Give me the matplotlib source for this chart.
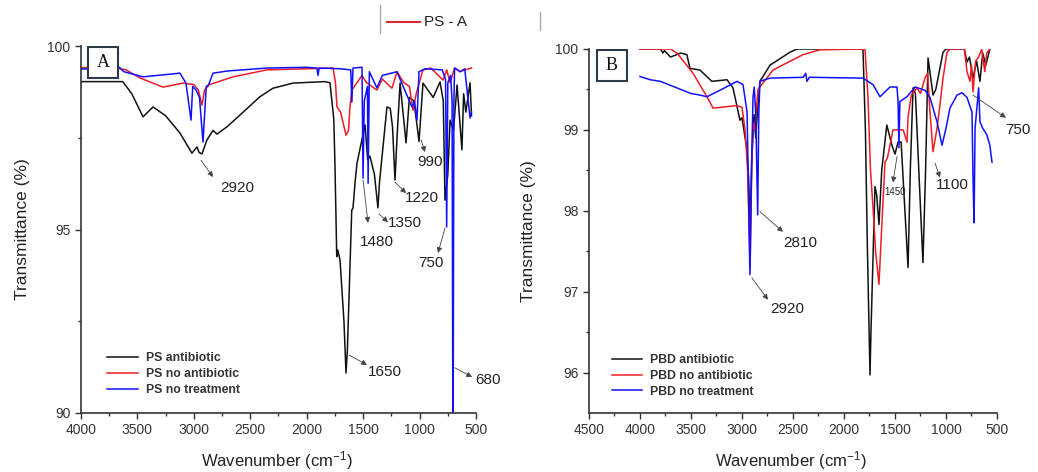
import numpy as np
import matplotlib
matplotlib.use('Agg')
import matplotlib.pyplot as plt
from matplotlib.lines import Line2D
from matplotlib.patches import Rectangle

plt.rcParams['font.family'] = ['Liberation Sans', 'DejaVu Sans']
plt.rcParams['mathtext.fontset'] = 'custom'
plt.rcParams['mathtext.rm'] = 'Liberation Sans'
plt.rcParams['mathtext.it'] = 'Liberation Sans:italic'

# Panel A - PS spectra (wavenumber, transmittance %)
ps_antibiotic = [(4000, 99.03), (3630, 99.03), (3550, 98.7), (3450, 98.07), (3362, 98.34), (3250, 98.1),
                 (3123, 97.63), (3017, 97.08), (2972, 97.25), (2954, 97.1), (2928, 97.06), (2884, 97.44),
                 (2830, 97.7), (2795, 97.6), (2706, 97.8), (2591, 98.12), (2414, 98.62), (2299, 98.85),
                 (2121, 98.99), (1838, 99.03), (1794, 99.0), (1760, 98.0), (1750, 96.8), (1734, 94.26),
                 (1725, 94.44), (1705, 94.17), (1670, 92.5), (1652, 91.09), (1640, 91.7), (1601, 95.53),
                 (1590, 95.58), (1572, 96.27), (1555, 96.8), (1483, 97.85), (1460, 96.9), (1440, 97.0),
                 (1400, 96.5), (1369, 95.59), (1355, 96.3), (1289, 98.34), (1260, 98.3), (1240, 97.8),
                 (1218, 96.35), (1200, 97.5), (1173, 98.99), (1120, 97.36), (1090, 98.6), (1050, 98.5),
                 (1005, 97.4), (970, 98.99), (880, 98.6), (819, 99.02), (790, 98.5), (775, 95.8),
                 (750, 96.5), (730, 97.98), (700, 97.7), (668, 98.94), (625, 97.17), (610, 98.7),
                 (590, 98.2), (553, 99.0), (540, 98.1)]
ps_no_antibiotic = [(4000, 99.41), (3700, 99.41), (3600, 99.35), (3477, 99.13), (3273, 98.88), (3096, 98.99),
                    (3000, 98.95), (2960, 98.8), (2928, 98.39), (2905, 98.8), (2860, 98.95), (2653, 99.16),
                    (2352, 99.35), (1767, 99.4), (1745, 99.0), (1732, 98.34), (1700, 98.2), (1652, 97.57),
                    (1630, 97.7), (1617, 98.34), (1600, 98.8), (1510, 99.2), (1470, 99.0), (1378, 98.8),
                    (1330, 99.1), (1245, 98.85), (1200, 99.3), (1140, 99.0), (1090, 98.9), (1058, 98.25),
                    (1030, 98.7), (970, 99.35), (900, 99.4), (792, 99.07), (760, 99.35), (730, 99.0),
                    (690, 99.4), (640, 99.3), (600, 99.35), (540, 99.4)]
ps_no_treatment = [(4000, 99.37), (3660, 99.42), (3620, 99.3), (3450, 99.16), (3123, 99.26), (3070, 98.99),
                   (3025, 97.98), (3010, 98.9), (2980, 98.8), (2950, 98.6), (2919, 97.38), (2890, 98.9),
                   (2870, 98.94), (2830, 99.26), (2700, 99.32), (2352, 99.4), (2000, 99.42), (1910, 99.4),
                   (1900, 99.2), (1890, 99.4), (1700, 99.38), (1610, 99.35), (1600, 98.47), (1590, 99.4),
                   (1510, 99.42), (1501, 96.4), (1490, 98.5), (1462, 98.9), (1456, 96.26), (1445, 99.3),
                   (1378, 98.86), (1330, 99.2), (1200, 99.3), (1160, 99.0), (1067, 98.34), (1045, 98.5),
                   (1023, 97.98), (1005, 99.3), (950, 99.38), (800, 99.35), (770, 99.1), (760, 95.07),
                   (750, 99.0), (725, 99.2), (712, 98.5), (704, 88.0), (696, 98.5), (690, 99.4),
                   (640, 99.3), (600, 99.38), (553, 98.04), (540, 98.2)]

# Panel B - PBD spectra
pbd_antibiotic = [(4000, 100), (3800, 100), (3775, 99.95), (3760, 99.98), (3700, 99.9), (3600, 99.95),
                  (3540, 99.93), (3510, 99.76), (3412, 99.74), (3295, 99.6), (3147, 99.62), (3088, 99.52),
                  (3020, 99.12), (3000, 99.15), (2951, 98.75), (2935, 98.4), (2920, 97.8), (2905, 98.6),
                  (2882, 99.19), (2865, 98.9), (2850, 99.2), (2824, 99.6), (2725, 99.8), (2530, 99.96),
                  (2460, 100), (1814, 100), (1790, 99.0), (1770, 97.5), (1745, 95.97), (1735, 96.53),
                  (1696, 98.3), (1680, 98.2), (1657, 97.83), (1630, 98.5), (1580, 99.06), (1530, 98.81),
                  (1500, 98.7), (1470, 98.85), (1440, 98.85), (1372, 97.3), (1350, 98.5), (1323, 99.52),
                  (1300, 99.45), (1226, 97.36), (1200, 98.5), (1176, 99.89), (1127, 99.43), (1100, 99.5),
                  (1029, 99.96), (1000, 100), (820, 100), (794, 99.84), (770, 99.9), (735, 99.64),
                  (700, 99.85), (667, 99.6), (640, 99.95), (610, 99.8), (570, 100)]
pbd_no_antibiotic = [(4000, 100), (3700, 100), (3637, 99.95), (3480, 99.7), (3343, 99.41), (3284, 99.27),
                     (3200, 99.28), (3049, 99.3), (3000, 99.28), (2970, 99.0), (2945, 98.5), (2920, 97.3),
                     (2905, 98.5), (2892, 99.09), (2875, 99.0), (2843, 99.5), (2696, 99.74), (2402, 99.93),
                     (2235, 99.99), (1794, 100), (1765, 99.41), (1740, 98.5), (1713, 97.99), (1690, 97.5),
                     (1657, 97.09), (1630, 97.8), (1608, 98.34), (1598, 98.6), (1575, 98.65), (1549, 98.81),
                     (1520, 99.0), (1480, 99.0), (1420, 99.0), (1382, 98.85), (1372, 99.16), (1340, 99.43),
                     (1284, 99.52), (1250, 99.45), (1206, 99.64), (1180, 99.7), (1157, 99.22), (1127, 98.73),
                     (1088, 99.02), (1060, 99.3), (1029, 99.64), (990, 99.96), (960, 100), (820, 100),
                     (794, 99.72), (765, 99.6), (750, 99.8), (735, 99.47), (710, 99.85), (680, 99.9),
                     (650, 100), (620, 99.72), (600, 99.95), (570, 100)]
pbd_no_treatment = [(4000, 99.66), (3900, 99.62), (3800, 99.6), (3700, 99.55), (3600, 99.5), (3500, 99.45),
                    (3412, 99.43), (3343, 99.41), (3200, 99.5), (3049, 99.6), (2990, 99.56), (2950, 99.22),
                    (2922, 97.21), (2905, 98.6), (2892, 99.4), (2880, 99.53), (2865, 99.2), (2846, 97.95),
                    (2835, 99.2), (2824, 99.6), (2725, 99.64), (2400, 99.65), (2375, 99.7), (2363, 99.6),
                    (2340, 99.65), (1814, 99.64), (1716, 99.56), (1647, 99.41), (1549, 99.53), (1480, 99.53),
                    (1470, 99.35), (1461, 98.78), (1452, 99.35), (1382, 99.41), (1304, 99.53), (1206, 99.49),
                    (1157, 99.4), (1088, 99.1), (1039, 98.81), (1000, 99.02), (961, 99.27), (892, 99.43),
                    (843, 99.46), (794, 99.4), (745, 99.22), (735, 98.4), (725, 97.85), (715, 99.02),
                    (680, 99.52), (667, 99.1), (640, 99.02), (600, 98.94), (570, 98.81), (549, 98.6)]

labels_a = ['PS antibiotic', 'PS no antibiotic', 'PS no treatment']
labels_b = ['PBD antibiotic', 'PBD no antibiotic', 'PBD no treatment']
colors = ['#111111', '#ee1c24', '#1010ff']

# peak labels: text, text position, arrow tail, arrow head
peaks_a = [('2920', (2618, 96.13), (2937, 96.89), (2830, 96.43)),
           ('1480', (1377, 94.66), (1501, 96.35), (1457, 95.18)),
           ('1350', (1129, 95.18), (1359, 95.42), (1280, 95.20)),
           ('1220', (978, 95.86), (1218, 96.29), (1120, 95.99)),
           ('990', (907, 96.84), (987, 97.44), (952, 97.11)),
           ('750', (899, 94.09), (775, 95.04), (837, 94.36)),
           ('1650', (1306, 91.12), (1625, 91.58), (1466, 91.31)),
           ('680', (394, 90.90), (686, 91.23), (535, 90.98))]
peaks_b = [('2810', (2431, 97.60), (2824, 97.99), (2598, 97.74)),
           ('2920', (2559, 96.79), (2902, 97.17), (2745, 96.90)),
           ('1450', (1500, 98.23), (1480, 98.67), (1520, 98.35)),
           ('1100', (941, 98.32), (1108, 98.59), (1059, 98.41)),
           ('750', (294, 99.00), (735, 99.43), (412, 99.15))]

fig = plt.figure(figsize=(10.38, 4.72), dpi=100)
axA = fig.add_axes([0.078, 0.125, 0.3806, 0.7775])
axB = fig.add_axes([0.5674, 0.125, 0.3931, 0.7712])

def draw(ax, series, labels, peaks, xlim, ylim, major_y, minor_y, tag, leg_anchor):
    for s, lab, c in zip(series, labels, colors):
        arr = np.array(s)
        ax.plot(arr[:, 0], arr[:, 1], color=c, lw=1.1, label=lab)
    ax.set_xlim(*xlim)
    ax.set_ylim(*ylim)
    ax.set_xticks(np.arange(xlim[0], xlim[1] - 1, -500))
    ax.set_xticks(np.arange(xlim[0], xlim[1] - 1, -250), minor=True)
    ax.set_yticks(major_y)
    ax.set_yticks(minor_y, minor=True)
    for sp in ['top', 'right']:
        ax.spines[sp].set_visible(False)
    for sp in ['left', 'bottom']:
        ax.spines[sp].set_color('#333333')
        ax.spines[sp].set_linewidth(1.2)
    ax.tick_params(which='both', direction='out', colors='#333333', labelsize=10, width=1)
    ax.tick_params(which='major', length=4)
    ax.tick_params(which='minor', length=2.5)
    ax.set_xlabel('Wavenumber (cm$^{-1}$)', fontsize=12, color='#222222')
    ax.set_ylabel('Transmittance (%)', fontsize=12.5, color='#222222')
    ax.xaxis.set_label_coords(0.495, -0.098)
    ax.yaxis.set_label_coords(-0.13, 0.5)
    for txt, tpos, tail, head in peaks:
        ax.annotate('', xy=head, xytext=tail, annotation_clip=False,
                    arrowprops=dict(arrowstyle='-|>', color='#444444', lw=0.6,
                                    mutation_scale=8, shrinkA=0, shrinkB=0))
        fs = 7 if txt == '1450' and tag == 'B' else 11
        ax.text(tpos[0], tpos[1], txt, fontsize=fs, color='#222222', ha='center', va='center',
                clip_on=False)
    leg = ax.legend(loc='upper left', bbox_to_anchor=leg_anchor, frameon=False, borderpad=0,
                    borderaxespad=0, fontsize=8.8, handlelength=2.5, handletextpad=0.65,
                    labelspacing=0.3)
    for t in leg.get_texts():
        t.set_fontweight('bold')
        t.set_color('#333333')
    ax.add_patch(Rectangle((0.019, 0.912), 0.075, 0.085, transform=ax.transAxes,
                           facecolor='white', edgecolor='#2b3a4a', lw=1.5, zorder=5))
    ax.text(0.0565, 0.954, tag, transform=ax.transAxes, ha='center', va='center',
            fontsize=13, family='Liberation Serif', color='#111111', zorder=6)

draw(axA, [ps_antibiotic, ps_no_antibiotic, ps_no_treatment], labels_a, peaks_a,
     (4000, 500), (90, 100), [90, 95, 100], [92.5, 97.5], 'A', (0.066, 0.165))
draw(axB, [pbd_antibiotic, pbd_no_antibiotic, pbd_no_treatment], labels_b, peaks_b,
     (4500, 500), (95.5, 100), [96, 97, 98, 99, 100], [96.5, 97.5, 98.5, 99.5], 'B', (0.056, 0.161))

# header strip at the top
fig.add_artist(Line2D([0.366, 0.366], [0.930, 0.989], transform=fig.transFigure, color='#aaaaaa', lw=1))
fig.add_artist(Line2D([0.520, 0.520], [0.936, 0.975], transform=fig.transFigure, color='#aaaaaa', lw=1))
fig.add_artist(Line2D([0.373, 0.405], [0.953, 0.953], transform=fig.transFigure, color='#d42a2f', lw=1.5))
fig.text(0.4085, 0.953, 'PS - A', fontsize=11, color='#222222', va='center', ha='left')

fig.savefig('out.png', dpi=100)
